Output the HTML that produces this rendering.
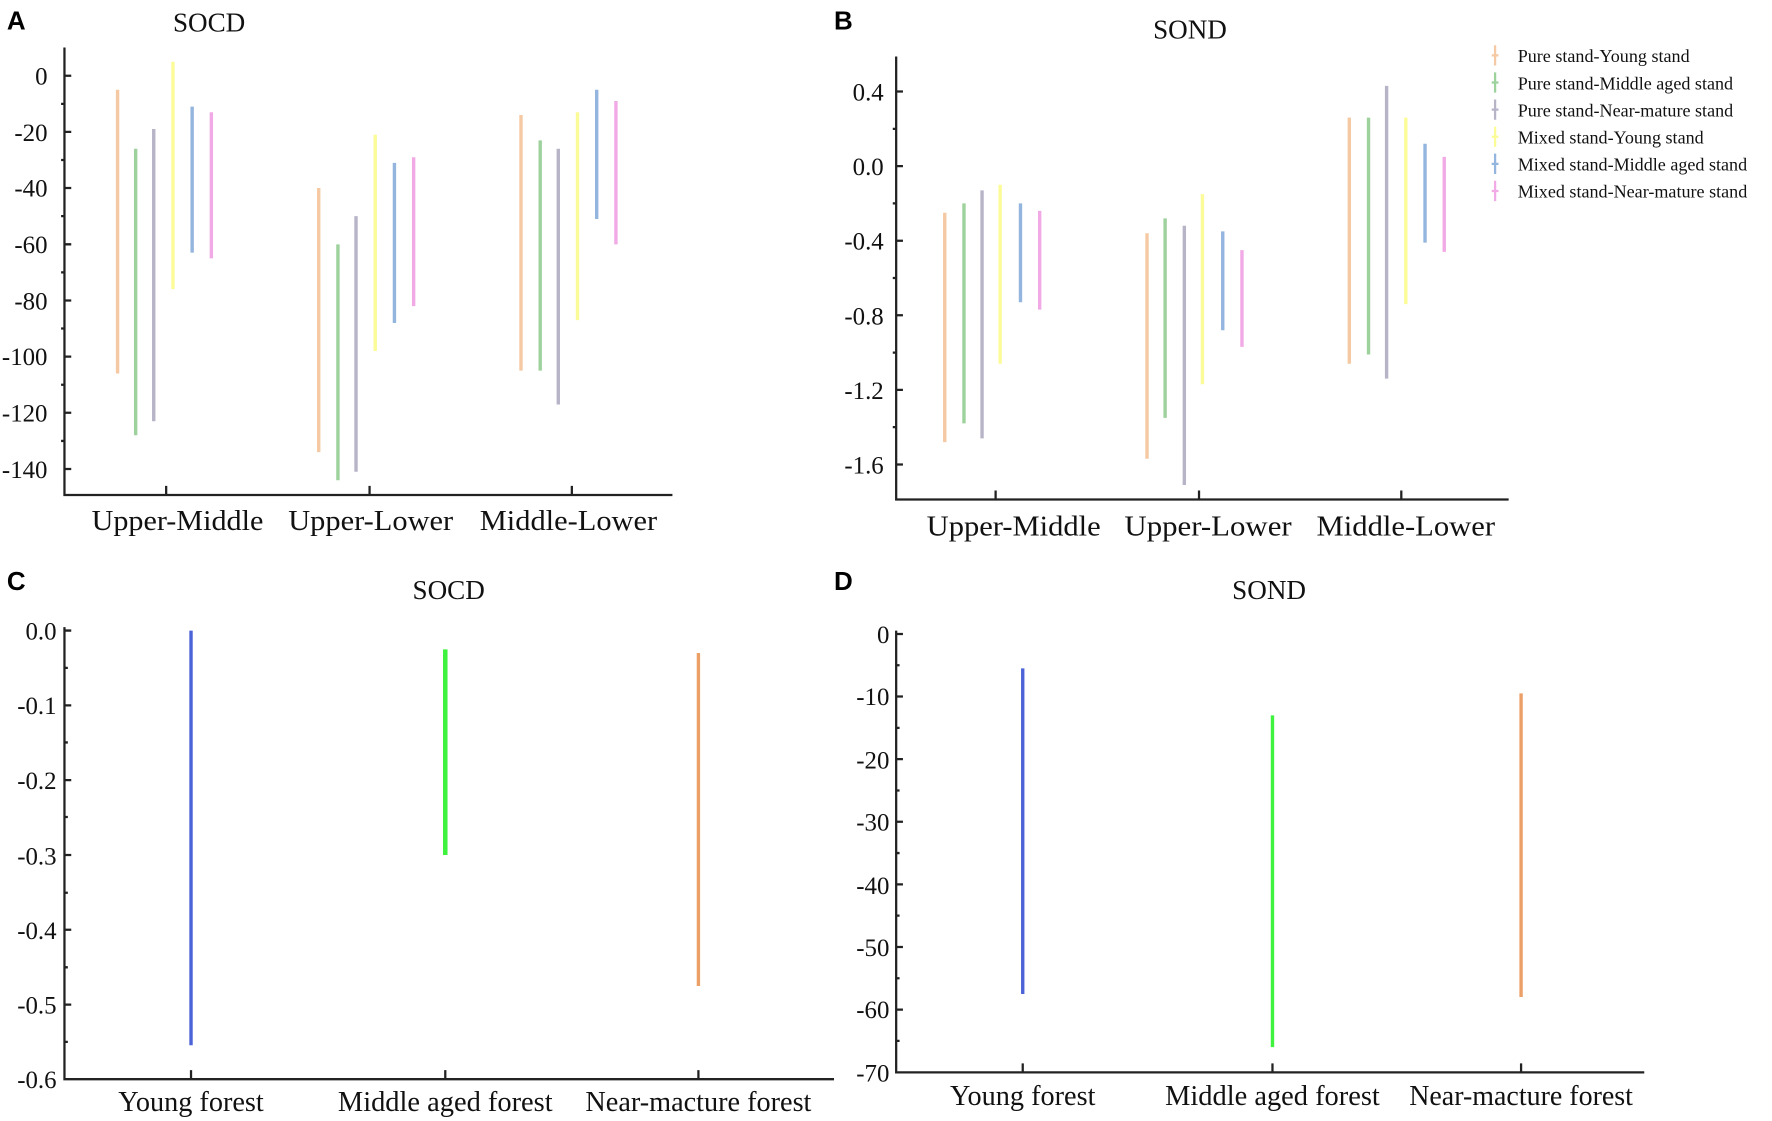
<!DOCTYPE html>
<html><head><meta charset="utf-8"><style>html,body{margin:0;padding:0;background:#fff}svg{display:block}svg text{font-family:"Liberation Serif",serif}svg text.lbl{font-family:"Liberation Sans",sans-serif;font-weight:bold}</style></head>
<body>
<svg width="1772" height="1121" viewBox="0 0 1568 992" xmlns="http://www.w3.org/2000/svg">
<rect width="1568" height="992" fill="#fff"/>
<g font-size="23">
<text class="lbl" x="6" y="26">A</text><text class="lbl" x="738" y="26">B</text><text class="lbl" x="6" y="522">C</text><text class="lbl" x="738" y="522">D</text>
</g>
<g font-size="24" text-anchor="middle" fill="#111">
<text x="185" y="28">SOCD</text><text x="1053" y="34">SOND</text>
<text x="397" y="530">SOCD</text><text x="1123" y="530">SOND</text>
</g>
<!-- Panel A axes -->
<g stroke="#222" stroke-width="2" fill="none">
<path d="M57 42V438H595"/>
<path d="M147 438v-8M327 438v-8M506 438v-8"/>
<path d="M57 67h6M57 116.7h6M57 166.4h6M57 216.2h6M57 265.9h6M57 315.6h6M57 365.3h6M57 415h6"/>
<path d="M57 91.9h-3M57 141.6h-3M57 191.3h-3M57 241h-3M57 290.7h-3M57 340.5h-3M57 390.2h-3"/>
</g>
<g font-size="22" text-anchor="end" fill="#111">
<text x="42" y="75">0</text><text x="42" y="125">-20</text><text x="42" y="174">-40</text><text x="42" y="224">-60</text><text x="42" y="274">-80</text><text x="42" y="323">-100</text><text x="42" y="373">-120</text><text x="42" y="423">-140</text>
</g>
<g font-size="25" text-anchor="middle" fill="#111">
<text x="157" y="469" textLength="152" lengthAdjust="spacingAndGlyphs">Upper-Middle</text><text x="328" y="469" textLength="146" lengthAdjust="spacingAndGlyphs">Upper-Lower</text><text x="503" y="469" textLength="157" lengthAdjust="spacingAndGlyphs">Middle-Lower</text>
</g>
<g stroke-width="3">
<path stroke="#f5c9a3" d="M104 79.4V330.5M282 166.4V400.1M461 101.8V328"/>
<path stroke="#9ed29c" d="M120 131.6V385.2M299 216.2V425M478 124.2V328"/>
<path stroke="#b8b4c8" d="M136 114.2V372.8M315 191.3V417.5M494 131.6V357.9"/>
<path stroke="#fbfb98" d="M153 54.6V255.9M332 119.2V310.6M511 99.3V283.3"/>
<path stroke="#93b5de" d="M170 94.3V223.6M349 144.1V285.8M528 79.4V193.8"/>
<path stroke="#f2aae6" d="M187 99.3V228.6M366 139.1V270.9M545 89.4V216.2"/>
</g>
<!-- Panel B -->
<g stroke="#222" stroke-width="2" fill="none">
<path d="M793 50V442H1335"/>
<path d="M881 442v-8M1061 442v-8M1240 442v-8"/>
<path d="M793 81h6M793 147h6M793 213h6M793 279h6M793 345h6M793 411h6"/>
<path d="M793 114h-3M793 180h-3M793 246h-3M793 312h-3M793 378h-3"/>
</g>
<g font-size="22" text-anchor="end" fill="#111">
<text x="782" y="89">0.4</text><text x="782" y="155">0.0</text><text x="782" y="221">-0.4</text><text x="782" y="287">-0.8</text><text x="782" y="353">-1.2</text><text x="782" y="419">-1.6</text>
</g>
<g font-size="25" text-anchor="middle" fill="#111">
<text x="897" y="474" textLength="154" lengthAdjust="spacingAndGlyphs">Upper-Middle</text><text x="1069" y="474" textLength="148" lengthAdjust="spacingAndGlyphs">Upper-Lower</text><text x="1244" y="474" textLength="158" lengthAdjust="spacingAndGlyphs">Middle-Lower</text>
</g>
<g stroke-width="3">
<path stroke="#f5c9a3" d="M836 188.3V391.2M1015 206.4V406M1194 104.1V321.9"/>
<path stroke="#9ed29c" d="M853 180V374.7M1031 193.2V369.8M1211 104.1V313.7"/>
<path stroke="#b8b4c8" d="M869 168.5V387.9M1048 199.8V429.2M1227 76V335.1"/>
<path stroke="#fbfb98" d="M885 163.5V321.9M1064 171.8V340M1244 104.1V269.1"/>
<path stroke="#93b5de" d="M903 180V267.5M1082 204.8V292.2M1261 127.2V214.7"/>
<path stroke="#f2aae6" d="M920 186.6V274M1099 221.3V307M1278 138.8V222.9"/>
</g>
<g stroke-width="2">
<path stroke="#f5c9a3" d="M1323 40v18M1320 49h6"/>
<path stroke="#9ed29c" d="M1323 64v18M1320 73h6"/>
<path stroke="#b8b4c8" d="M1323 88v18M1320 97h6"/>
<path stroke="#fbfb98" d="M1323 112v18M1320 121h6"/>
<path stroke="#93b5de" d="M1323 136v18M1320 145h6"/>
<path stroke="#f2aae6" d="M1323 160v18M1320 169h6"/>
</g>
<g font-size="16" fill="#111">
<text x="1343" y="55">Pure stand-Young stand</text>
<text x="1343" y="79">Pure stand-Middle aged stand</text>
<text x="1343" y="103">Pure stand-Near-mature stand</text>
<text x="1343" y="127">Mixed stand-Young stand</text>
<text x="1343" y="151">Mixed stand-Middle aged stand</text>
<text x="1343" y="175">Mixed stand-Near-mature stand</text>
</g>
<!-- Panel C -->
<g stroke="#222" stroke-width="2" fill="none">
<path d="M57 555V955H738"/>
<path d="M169 955v-8M394 955v-8M618 955v-8"/>
<path d="M57 558h6M57 624.2h6M57 690.4h6M57 756.6h6M57 822.8h6M57 889h6"/>
<path d="M57 591h3M57 657h3M57 723h3M57 790h3M57 856h3M57 922h3"/>
</g>
<g font-size="22" text-anchor="end" fill="#111">
<text x="50" y="566">0.0</text><text x="50" y="632">-0.1</text><text x="50" y="698">-0.2</text><text x="50" y="765">-0.3</text><text x="50" y="831">-0.4</text><text x="50" y="897">-0.5</text><text x="50" y="963">-0.6</text>
</g>
<g font-size="25" text-anchor="middle" fill="#111">
<text x="169" y="983">Young forest</text><text x="394" y="983" textLength="190" lengthAdjust="spacingAndGlyphs">Middle aged forest</text><text x="618" y="983" textLength="200" lengthAdjust="spacingAndGlyphs">Near-macture forest</text>
</g>
<path stroke="#4b63d6" stroke-width="3" d="M169 558V925"/>
<path stroke="#3ef23e" stroke-width="4" d="M394 574.6V756.6"/>
<path stroke="#eba068" stroke-width="3" d="M618 577.9V872.5"/>
<!-- Panel D -->
<g stroke="#222" stroke-width="2" fill="none">
<path d="M793 558V949H1455"/>
<path d="M905 949v-8M1126 949v-8M1346 949v-8"/>
<path d="M793 561h6M793 616.4h6M793 671.8h6M793 727.2h6M793 782.6h6M793 838h6M793 893.4h6"/>
<path d="M793 588.7h3M793 644.1h3M793 699.5h3M793 754.9h3M793 810.3h3M793 865.7h3M793 921.1h3"/>
</g>
<g font-size="22" text-anchor="end" fill="#111">
<text x="787" y="569">0</text><text x="787" y="624">-10</text><text x="787" y="680">-20</text><text x="787" y="735">-30</text><text x="787" y="791">-40</text><text x="787" y="846">-50</text><text x="787" y="901">-60</text><text x="787" y="957">-70</text>
</g>
<g font-size="25" text-anchor="middle" fill="#111">
<text x="905" y="978">Young forest</text><text x="1126" y="978" textLength="190" lengthAdjust="spacingAndGlyphs">Middle aged forest</text><text x="1346" y="978" textLength="198" lengthAdjust="spacingAndGlyphs">Near-macture forest</text>
</g>
<path stroke="#4b63d6" stroke-width="3" d="M905 591.5V879.6"/>
<path stroke="#3ef23e" stroke-width="3" d="M1126 633V926.6"/>
<path stroke="#eba068" stroke-width="3" d="M1346 613.6V882.3"/>
</svg>
</body></html>
